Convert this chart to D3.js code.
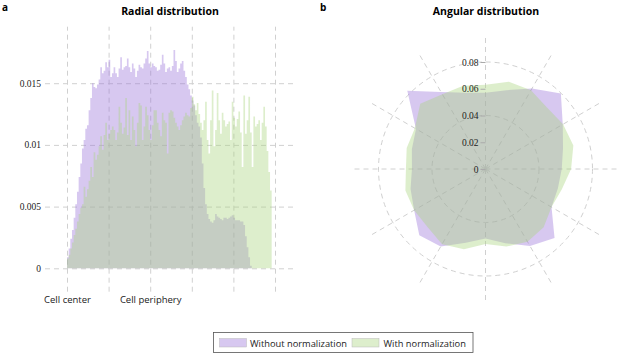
<!DOCTYPE html>
<html><head><meta charset="utf-8">
<script src="https://cdn.jsdelivr.net/npm/d3@7"></script>
<style>body{margin:0;background:#fff}svg{display:block}</style>
</head><body>
<script>
// ---------- DATA ----------
const series = ["Without normalization", "With normalization"];
const binWidth = 0.02;               // radial bin width (cell-center = 0, periphery = 1)
const radialWithout = [
0.0009,0.0016,0.0024,0.0031,0.0041,0.0052,0.0062,0.0074,0.0085,0.0097,
0.0104,0.0113,0.0116,0.0128,0.0138,0.0150,0.0147,0.0146,0.0149,0.0153,
0.0163,0.0158,0.0160,0.0167,0.0163,0.0169,0.0155,0.0158,0.0163,0.0158,
0.0155,0.0162,0.0171,0.0161,0.0163,0.0164,0.0170,0.0163,0.0159,0.0166,
0.0162,0.0155,0.0160,0.0165,0.0163,0.0162,0.0166,0.0170,0.0176,0.0166,
0.0163,0.0166,0.0164,0.0163,0.0160,0.0161,0.0165,0.0173,0.0166,0.0159,
0.0162,0.0163,0.0160,0.0164,0.0177,0.0168,0.0159,0.0162,0.0166,0.0168,
0.0160,0.0155,0.0149,0.0145,0.0140,0.0136,0.0132,0.0124,0.0118,0.0115,
0.0106,0.0085,0.0065,0.0052,0.0044,0.0040,0.0038,0.0037,0.0039,0.0044,
0.0042,0.0041,0.0040,0.0039,0.0041,0.0041,0.0040,0.0041,0.0042,0.0043,
0.0041,0.0039,0.0039,0.0039,0.0038,0.0038,0.0035,0.0026,0.0017,0.0009,
0.0002];
const radialWith = [
0.0008,0.0011,0.0016,0.0021,0.0027,0.0032,0.0038,0.0044,0.0049,0.0052,
0.0066,0.0058,0.0064,0.0071,0.0082,0.0074,0.0094,0.0088,0.0092,0.0099,
0.0107,0.0096,0.0108,0.0118,0.0104,0.0109,0.0112,0.0115,0.0112,0.0104,
0.0110,0.0131,0.0118,0.0109,0.0114,0.0138,0.0108,0.0128,0.0104,0.0123,
0.0112,0.0099,0.0118,0.0134,0.0132,0.0104,0.0115,0.0131,0.0124,0.0112,
0.0104,0.0116,0.0128,0.0128,0.0118,0.0112,0.0107,0.0126,0.0120,0.0118,
0.0093,0.0126,0.0128,0.0127,0.0122,0.0118,0.0115,0.0112,0.0116,0.0120,
0.0123,0.0126,0.0124,0.0123,0.0130,0.0139,0.0133,0.0128,0.0134,0.0125,
0.0118,0.0112,0.0120,0.0135,0.0104,0.0093,0.0120,0.0144,0.0099,0.0112,
0.0142,0.0120,0.0109,0.0126,0.0120,0.0115,0.0117,0.0119,0.0104,0.0135,
0.0122,0.0115,0.0121,0.0127,0.0110,0.0082,0.0140,0.0109,0.0120,0.0139,
0.0110,0.0082,0.0123,0.0115,0.0117,0.0120,0.0104,0.0118,0.0131,0.0115,
0.0095,0.0078,0.0063];
const radialTicks = [0, 0.005, 0.01, 0.015];
const radialTickLabels = ["0", "0.005", "0.01", "0.015"];
const radialXGrid = [0, 0.5, 1, 1.5, 2, 2.5];
const radialXLabels = {0: "Cell center", 1: "Cell periphery"};

const angles = [0,15,30,45,60,75,90,105,120,135,150,165,180,195,210,225,240,255,270,285,300,315,330,345];
const angularWithout = [0.057,0.061,0.0695,0.0797,0.0667,0.060,0.057,0.056,0.057,0.073,0.0665,0.0575,
                        0.052,0.057,0.067,0.070,0.0616,0.058,0.055,0.057,0.060,0.0827,0.0665,0.059];
const angularWith    = [0.063,0.0675,0.068,0.065,0.067,0.068,0.064,0.059,0.057,0.0615,0.0628,0.060,
                        0.056,0.0622,0.0649,0.0613,0.0616,0.062,0.0595,0.061,0.061,0.069,0.0645,0.0645];
const angularTicks = [0, 0.02, 0.04, 0.06, 0.08];
const angularCircles = [0.04, 0.08];

// ---------- STYLE ----------
const colors = ["#9b75d9", "#aad47f"];
const fillOpacity = 0.4;
const gridColor = "#d0d0d0";
const serif = "'Liberation Serif', 'DejaVu Serif', serif";
const sans = "'Open Sans', 'Noto Sans', sans-serif";

const svg = d3.select("body").append("svg").attr("width", 617).attr("height", 353);

// ---------- PANEL A: radial histogram ----------
const x = d3.scaleLinear().domain([0, 2.5]).range([67, 275]);
const y = d3.scaleLinear().domain([0, 0.005]).range([268.3, 206.6]);
const gA = svg.append("g");

const yAxis = d3.axisLeft(y).tickValues(radialTicks)
  .tickFormat((d, i) => radialTickLabels[i]).tickSize(-(293 - 45)).tickPadding(4);
gA.append("g").attr("transform", "translate(45,0)").call(yAxis)
  .call(g => g.select(".domain").remove())
  .call(g => g.selectAll("line").attr("stroke", gridColor).attr("stroke-dasharray", "5,4"))
  .call(g => g.selectAll("text").attr("font-family", serif).attr("font-size", 9.5).attr("fill", "#222"));

const xAxis = d3.axisBottom(x).tickValues(radialXGrid)
  .tickFormat(d => radialXLabels[d] || "").tickSize(-(291.7 - 26.7)).tickPadding(5);
gA.append("g").attr("transform", "translate(0,291.7)").call(xAxis)
  .call(g => g.select(".domain").remove())
  .call(g => g.selectAll("line").attr("stroke", gridColor).attr("stroke-dasharray", "5,4"))
  .call(g => g.selectAll("text").attr("font-family", sans).attr("font-size", 9.5).attr("fill", "#222"));

const stepArea = d3.area()
  .x(d => x(d[0])).y0(y(0)).y1(d => y(d[1])).curve(d3.curveStepAfter);
[radialWithout, radialWith].forEach((vals, k) => {
  const pts = vals.map((v, i) => [i * binWidth, v]);
  pts.push([vals.length * binWidth, vals[vals.length - 1]]);
  gA.append("path").attr("d", stepArea(pts))
    .attr("fill", colors[k]).attr("fill-opacity", fillOpacity);
});

gA.append("text").attr("x", 170).attr("y", 15).attr("text-anchor", "middle")
  .attr("font-family", sans).attr("font-weight", "bold").attr("font-size", 10.5)
  .text("Radial distribution");
svg.append("text").attr("x", 2).attr("y", 11).attr("font-family", sans)
  .attr("font-weight", "bold").attr("font-size", 10).text("a");

// ---------- PANEL B: angular polar ----------
const cx = 485.5, cy = 169;
const r = d3.scaleLinear().domain([0, 0.08]).range([0, 107]);
const gB = svg.append("g").attr("transform", `translate(${cx},${cy})`);

gB.selectAll("circle.grid").data(angularCircles).join("circle")
  .attr("r", d => r(d)).attr("fill", "none").attr("stroke", gridColor)
  .attr("stroke-dasharray", "5,4");
const spokeAngles = d3.range(0, 360, 30);
gB.selectAll("line.spoke").data(spokeAngles).join("line")
  .attr("x1", 0).attr("y1", 0)
  .attr("x2", d => 131 * Math.sin(d * Math.PI / 180))
  .attr("y2", d => -131 * Math.cos(d * Math.PI / 180))
  .attr("stroke", gridColor).attr("stroke-dasharray", "5,4");

const radial = d3.lineRadial()
  .angle(d => d[0] * Math.PI / 180).radius(d => r(d[1])).curve(d3.curveLinearClosed);
[angularWithout, angularWith].forEach((vals, k) => {
  gB.append("path").attr("d", radial(angles.map((a, i) => [a, vals[i]])))
    .attr("fill", colors[k]).attr("fill-opacity", fillOpacity);
});

const rAxisScale = d3.scaleLinear().domain([0, 0.08]).range([cy, cy - r(0.08)]);
svg.append("g").attr("transform", `translate(${cx},0)`)
  .call(d3.axisLeft(rAxisScale).tickValues(angularTicks).tickFormat(d3.format("~g"))
        .tickSize(5).tickPadding(2))
  .call(g => g.select(".domain").remove())
  .call(g => g.selectAll("line").attr("stroke", "#aaa"))
  .call(g => g.selectAll("text").attr("font-family", serif).attr("font-size", 9.5).attr("fill", "#222"));

svg.append("text").attr("x", 486).attr("y", 15).attr("text-anchor", "middle")
  .attr("font-family", sans).attr("font-weight", "bold").attr("font-size", 10.5)
  .text("Angular distribution");
svg.append("text").attr("x", 320).attr("y", 11).attr("font-family", sans)
  .attr("font-weight", "bold").attr("font-size", 10).text("b");

// ---------- LEGEND ----------
const lg = svg.append("g");
lg.append("rect").attr("x", 213.5).attr("y", 332.5).attr("width", 259.5).attr("height", 20)
  .attr("fill", "#fff").attr("stroke", "#555").attr("stroke-width", 0.8);
const keyX = [219.5, 352], textX = [250, 383.5];
series.forEach((s, k) => {
  lg.append("rect").attr("x", keyX[k]).attr("y", 338.5).attr("width", 27).attr("height", 8.5)
    .attr("fill", colors[k]).attr("fill-opacity", fillOpacity)
    .attr("stroke", "#bbb").attr("stroke-width", 0.5);
  lg.append("text").attr("x", textX[k]).attr("y", 346.5)
    .attr("font-family", sans).attr("font-size", 9.3).attr("fill", "#222").text(s);
});
</script>
</body></html>
